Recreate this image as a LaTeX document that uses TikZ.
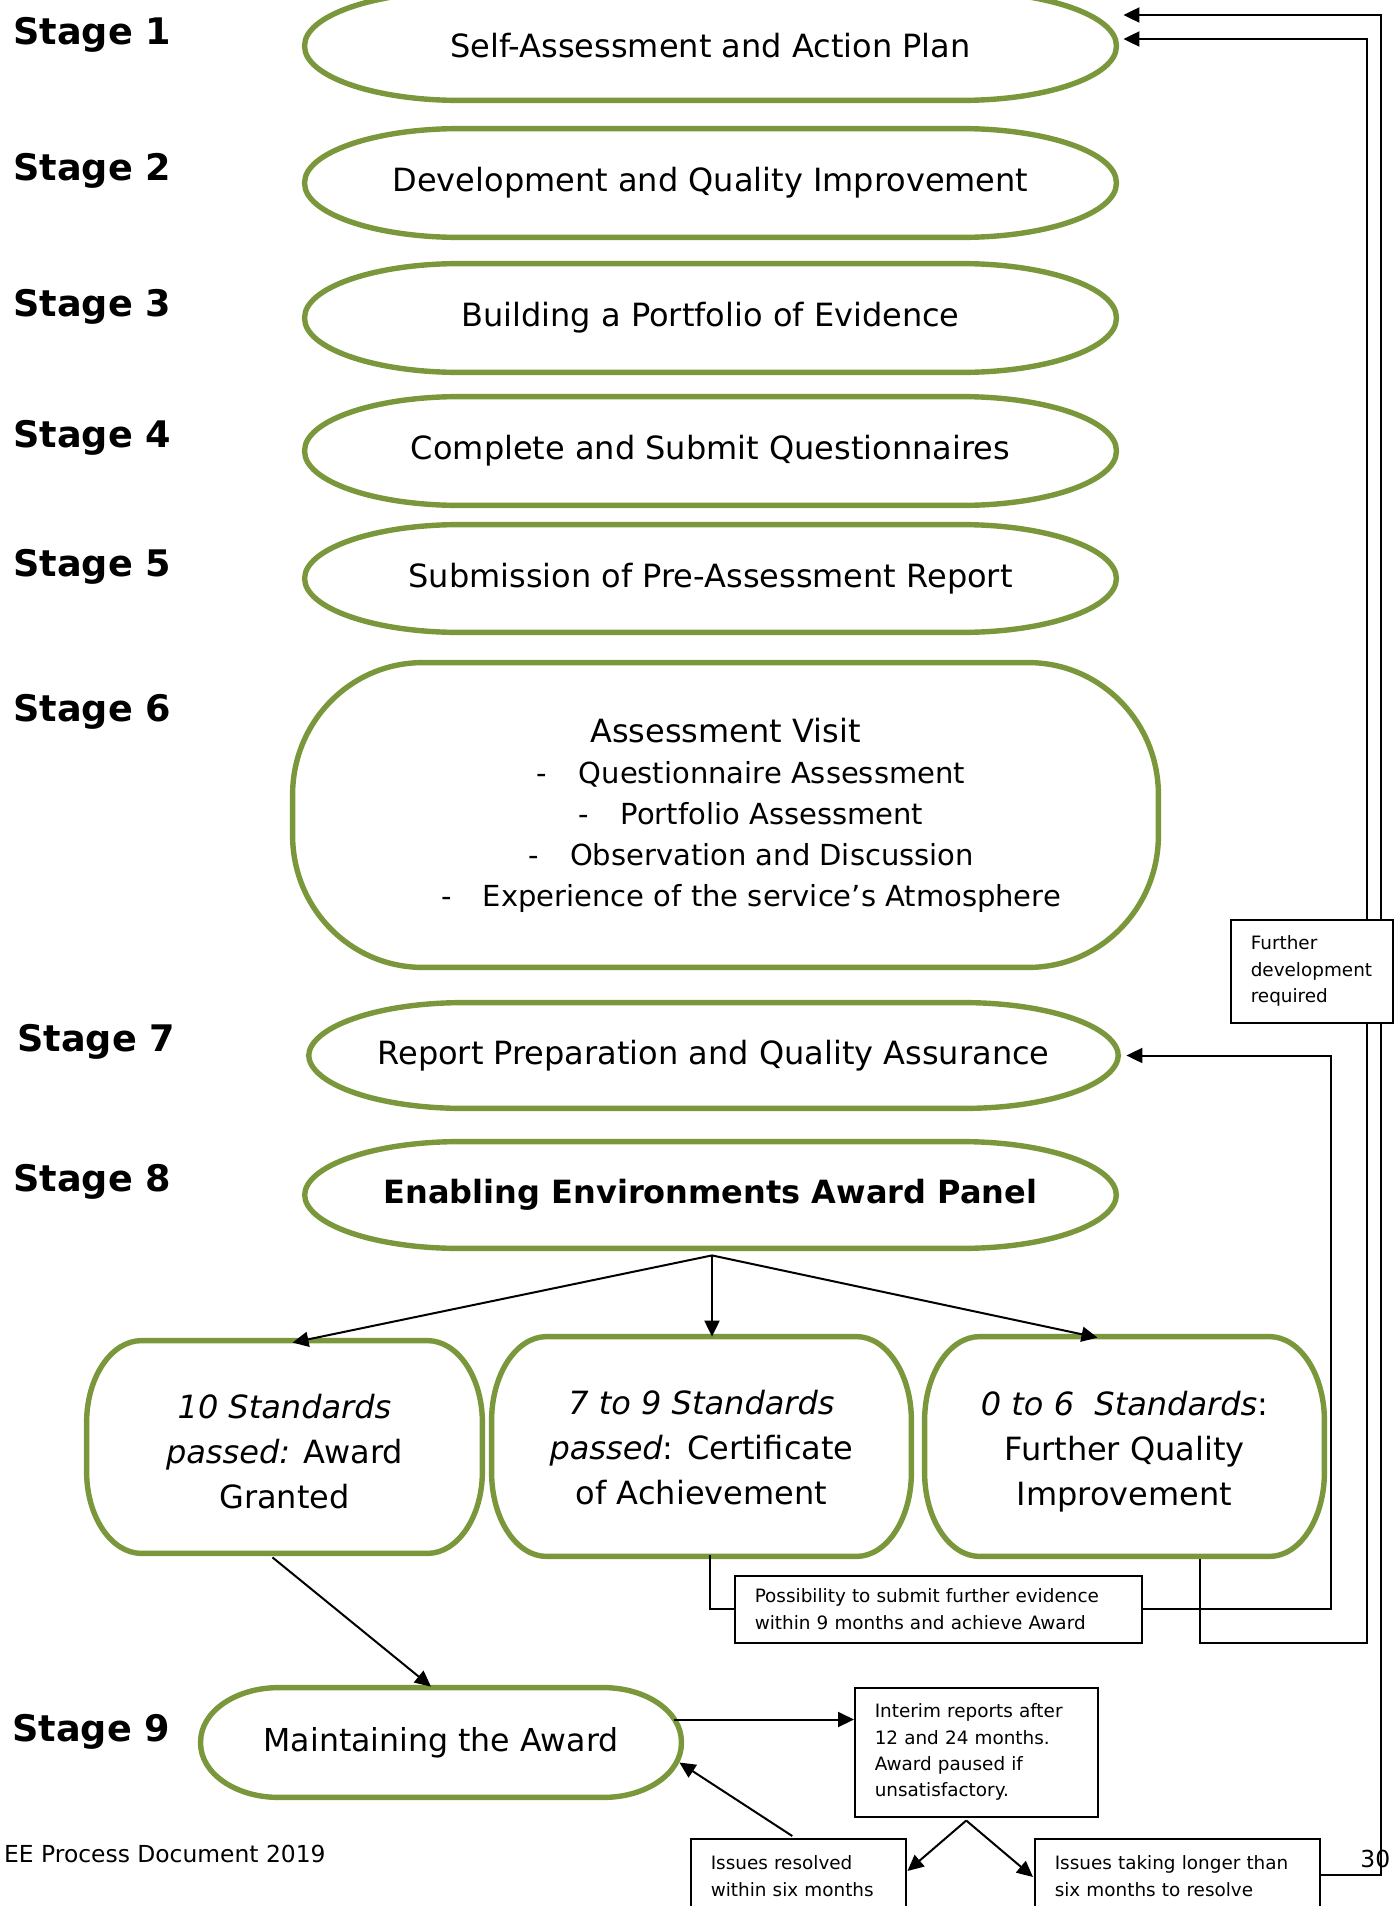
\documentclass[tikz,border=0pt]{standalone}
\usepackage{fontspec}
\setmainfont{DejaVu Sans}
\usetikzlibrary{arrows.meta,calc}
\definecolor{olivegreen}{HTML}{7A983B}

\tikzset{
  ovalline/.style={draw=olivegreen, line width=2.7pt},
  shapenode/.style={inner sep=0pt, align=center, font=\fontsize{16}{22.5}\selectfont},
  conn/.style={line width=1pt, draw=black},
  arr/.style={conn, -{Triangle[length=8pt,width=7.5pt]}},
  stagelabel/.style={anchor=base west, inner sep=0pt, font=\fontsize{18.3}{22}\selectfont\bfseries},
  notebox/.style={draw, line width=0.75pt, fill=white, align=left,
                  font=\fontsize{9.2}{13.2}\selectfont, inner xsep=10pt},
  plaintext/.style={inner sep=0pt, font=\fontsize{11.7}{14}\selectfont},
}

% node of given corners (pixel grid, y downwards)
\newcommand\shapebox[7]{%
  \node[shapenode,#1,minimum width={(#5-#3)*0.5pt},minimum height={(#6-#4)*0.5pt}]
    (#2) at ({(#3+#5)/2},{(#4+#6)/2}) {#7};}
% outline with elliptical corners around a node
\newcommand\ovaloutline[3]{%
  \draw[ovalline] ($(#1.north west)+(#2,0)$) -- ($(#1.north east)+(-#2,0)$)
    arc[start angle=-90,end angle=0,x radius=#2,y radius=#3]
    -- ($(#1.south east)+(0,-#3)$)
    arc[start angle=0,end angle=90,x radius=#2,y radius=#3]
    -- ($(#1.south west)+(#2,0)$)
    arc[start angle=90,end angle=180,x radius=#2,y radius=#3]
    -- ($(#1.north west)+(0,#3)$)
    arc[start angle=180,end angle=270,x radius=#2,y radius=#3] -- cycle;}
% taller first line, to lower a centred block of text
\newcommand\toprule[1]{\rule{0pt}{#1}}

\begin{document}
\begin{tikzpicture}[x=0.5pt,y=-0.5pt]
\useasboundingbox (0,0) rectangle (1400,1906);

% stage labels
\node[stagelabel] (l1) at (13,44) {Stage 1};
\node[stagelabel] (l2) at (13,180) {Stage 2};
\node[stagelabel] (l3) at (13,316) {Stage 3};
\node[stagelabel] (l4) at (13,447) {Stage 4};
\node[stagelabel] (l5) at (13,576) {Stage 5};
\node[stagelabel] (l6) at (13,721) {Stage 6};
\node[stagelabel] (l7) at (17,1051) {Stage 7};
\node[stagelabel] (l8) at (13,1191) {Stage 8};
\node[stagelabel] (l9) at (12,1741) {Stage 9};

% stage shapes
\shapebox{}{s1}{305}{-8}{1116}{100}{Self-Assessment and Action Plan}
\shapebox{}{s2}{305}{129}{1116}{237}{Development and Quality Improvement}
\shapebox{}{s3}{305}{264}{1116}{372}{Building a Portfolio of Evidence}
\shapebox{}{s4}{305}{397}{1116}{505}{Complete and Submit Questionnaires}
\shapebox{}{s5}{305}{525}{1116}{632}{Submission of Pre-Assessment Report}
\shapebox{font=\fontsize{14.5}{20.5}\selectfont}{s6}{293}{663}{1158}{967}{%
  {\fontsize{16}{20.5}\selectfont Assessment Visit}\\
  \hspace*{25.5pt}-\hspace{15.7pt}Questionnaire Assessment\\
  \hspace*{25.5pt}-\hspace{15.7pt}Portfolio Assessment\\
  \hspace*{25.5pt}-\hspace{15.7pt}Observation and Discussion\\
  \hspace*{25.5pt}-\hspace{15.7pt}Experience of the service’s Atmosphere}
\shapebox{}{s7}{309}{1003}{1118}{1108}{Report Preparation and Quality Assurance}
\shapebox{font=\fontsize{16}{20}\selectfont\bfseries}{s8}{305}{1142}{1116}{1248}{Enabling Environments Award Panel}
\shapebox{}{b1}{87}{1341}{482}{1553}{\toprule{17.2pt}\textit{10 Standards}\\\textit{passed:} Award\\Granted}
\shapebox{}{b2}{492}{1337}{911}{1556}{\toprule{13pt}\textit{7 to 9 Standards}\\\textit{passed}: Certificate\\of Achievement}
\shapebox{}{b3}{925}{1337}{1324}{1556}{\toprule{17.5pt}\textit{0 to 6\ \ Standards}:\\Further Quality\\Improvement}
\shapebox{font=\fontsize{15.8}{20}\selectfont}{s9}{201}{1688}{681}{1797}{Maintaining the Award}

\foreach \s in {s1,s2,s3,s4,s5,s7,s8} {\ovaloutline{\s}{155}{54}}
\ovaloutline{s6}{130}{132}
\ovaloutline{b1}{55}{82}
\ovaloutline{b2}{55}{84}
\ovaloutline{b3}{55}{84}
\ovaloutline{s9}{78}{54}

% note boxes
\node[notebox, anchor=north west, text width=183.5pt, minimum height=33.5pt] (poss) at (734,1575)
  {Possibility to submit further evidence\\within 9 months and achieve Award};
\node[notebox, anchor=north west, text width=101.5pt, minimum height=64.5pt] (interim) at (854,1687)
  {Interim reports after\\12 and 24 months.\\Award paused if\\unsatisfactory.};
\node[notebox, anchor=north west, text width=87.5pt, inner ysep=8.5pt, text depth=16pt] (res) at (690,1838)
  {Issues resolved\\within six months};
\node[notebox, anchor=north west, text width=122.5pt, inner ysep=8.5pt, text depth=16pt] (lng) at (1034,1838)
  {Issues taking longer than\\six months to resolve};

% footer
\node[plaintext, anchor=base east] (foot) at (326,1862) {EE Process Document 2019};
\node[plaintext, anchor=base west] (page) at (1360,1867) {30};

% return lanes on the right
\coordinate (lane7) at (1331,0);
\coordinate (lane1) at (1367,0);
\coordinate (lane0) at (1381,0);

% panel outcomes
\coordinate (split) at ($(s8.south)+(1.5,7)$);
\draw[arr] (split) -- ($(b1.north)+(8,2)$);
\draw[arr] (split) -- (split |- b2.north);
\draw[arr] (split) -- ($(b3.north)+(-27,1)$);

% award granted leads to stage 9
\draw[arr] ($(b1.south)+(-12,4)$) -- ($(s9.north)+(-10,-1)$);

% certificate: further evidence, back to stage 7
\draw[conn] ($(b2.south)+(8.5,-1)$) |- (poss.west);
\draw[arr] (poss.east) -| (lane7 |- s7.east) -- ($(s7.east)+(8,0)$);

% further quality improvement: back to stage 1
\draw[arr] ($(b3.south)+(75.5,3)$) -- ++(0,84) -| ($(lane1)+(0,39)$) -- ($(s1.east)+(7,-7)$);

% maintaining the award
\coordinate (s9out) at ($(s9.east)+(-7,-23)$);
\draw[arr] (s9out) -- (s9out -| interim.west);
\coordinate (ib) at ($(interim.south)+(-10,3)$);
\draw[arr] (ib) -- ($(res.north east)+(1,33)$);
\draw[arr] (ib) -- ($(lng.north west)+(-1,39)$);
\draw[arr] ($(res.north)+(-6,-2)$) -- ($(s9.east)+(-2,20)$);
\draw[arr] ($(lng.north east)+(0,37)$) -| ($(lane0)+(0,15)$) -- ($(s1.east)+(7,-31)$);

% label over the return lanes
\node[notebox, anchor=north west, text width=61pt, minimum height=51.5pt] (fdr) at (1230,919)
  {Further\\development\\required};
\end{tikzpicture}
\end{document}
